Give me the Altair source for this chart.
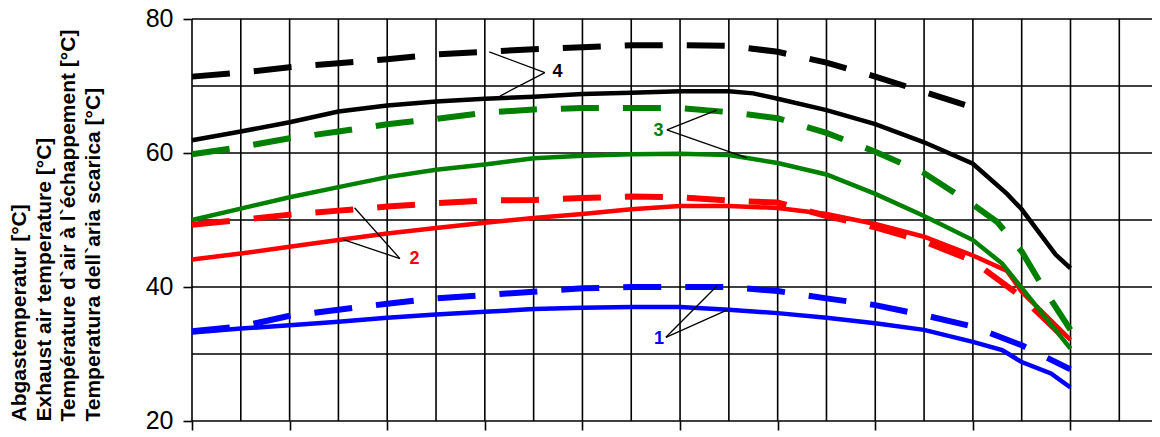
import altair as alt
import pandas as pd

# ---------------- data (x in grid units, y in °C) ----------------
X_GRID = list(range(0, 20))
Y_GRID = [20, 30, 40, 50, 60, 70, 80]
X_TICKS = [0, 2, 4, 6, 8, 10, 12, 14, 16, 18]
Y_TICKS = [20, 40, 60, 80]

Y_TITLE = [
    "Abgastemperatur [°C]",
    "Exhaust air temperature [°C]",
    "Température d`air à l`échappement [°C]",
    "Temperatura dell`aria scarica [°C]",
]

S1_SOLID_X = [0, 1, 2, 3, 4, 5, 6, 7, 8, 9, 10, 11, 12, 13, 14, 15, 16, 16.6, 17, 17.6, 18]
S1_SOLID_Y = [33.2, 33.8, 34.3, 34.8, 35.4, 35.9, 36.3, 36.7, 36.9, 37.0, 37.0, 36.6, 36.1, 35.4, 34.6, 33.6, 31.8, 30.6, 28.8, 27.1, 25.0]
S1_DASH_X = [0, 1, 2, 3, 4, 5, 6, 7, 8, 9, 10, 11, 12, 13, 14, 15, 16, 17, 17.5, 18]
S1_DASH_Y = [33.4, 34.1, 35.7, 36.6, 37.5, 38.3, 38.8, 39.3, 39.8, 40.0, 40.0, 40.0, 39.4, 38.3, 37.3, 35.8, 34.1, 31.3, 29.5, 27.7]

S2_SOLID_X = [0, 1, 2, 3, 4, 5, 6, 7, 8, 9, 10, 11, 12, 13, 14, 15, 16, 16.7, 17, 18]
S2_SOLID_Y = [44.1, 45.0, 46.0, 47.0, 48.0, 48.8, 49.6, 50.3, 50.9, 51.6, 52.1, 52.1, 51.8, 50.9, 49.4, 47.5, 44.7, 42.4, 39.3, 32.1]
S2_DASH_X = [0, 1, 2, 3, 4, 5, 6, 7, 8, 9, 10, 11, 12, 13, 14, 15, 16, 17, 18]
S2_DASH_Y = [49.3, 50.0, 50.8, 51.4, 52.0, 52.5, 52.9, 53.0, 53.3, 53.5, 53.4, 52.9, 52.6, 50.6, 48.9, 46.8, 43.9, 38.5, 31.5]

S3_SOLID_X = [0, 1, 2, 3, 4, 5, 6, 7, 8, 9, 10, 11, 12, 13, 14, 15, 16, 16.6, 18]
S3_SOLID_Y = [50.0, 51.7, 53.4, 54.9, 56.4, 57.5, 58.3, 59.2, 59.6, 59.8, 59.9, 59.7, 58.5, 56.8, 53.9, 50.6, 47.0, 43.5, 30.8]
S3_DASH_X = [0, 1, 2, 3, 4, 5, 6, 7, 8, 9, 10, 11, 12, 13, 14, 15, 16, 16.5, 17, 17.5, 18]
S3_DASH_Y = [59.8, 60.9, 62.2, 63.2, 64.3, 65.1, 66.0, 66.5, 66.7, 66.7, 66.7, 66.1, 65.2, 63.0, 60.2, 57.0, 52.3, 49.7, 45.3, 39.2, 33.6]

S4_SOLID_X = [0, 1, 2, 3, 4, 5, 6, 7, 8, 9, 10, 11, 11.5, 12, 13, 14, 15, 16, 16.7, 17, 17.7, 18]
S4_SOLID_Y = [61.9, 63.2, 64.6, 66.2, 67.1, 67.7, 68.1, 68.4, 68.8, 69.0, 69.2, 69.2, 68.9, 68.1, 66.4, 64.3, 61.6, 58.4, 53.9, 51.6, 44.8, 42.8]
S4_DASH_X = [0, 1, 2, 3, 4, 5, 6, 7, 8, 9, 10, 11, 12, 13, 14, 15, 16]
S4_DASH_Y = [71.4, 72.0, 72.8, 73.4, 74.0, 74.7, 75.1, 75.5, 75.8, 76.1, 76.1, 76.0, 75.1, 73.5, 71.4, 69.1, 66.8]

SERIES_COLORS = ["#0000FF", "#FF0000", "#008000", "#000000"]
SERIES = [
    (S1_DASH_X, S1_DASH_Y, S1_SOLID_X, S1_SOLID_Y),
    (S2_DASH_X, S2_DASH_Y, S2_SOLID_X, S2_SOLID_Y),
    (S3_DASH_X, S3_DASH_Y, S3_SOLID_X, S3_SOLID_Y),
    (S4_DASH_X, S4_DASH_Y, S4_SOLID_X, S4_SOLID_Y),
]

# curve labels and callout lines
LABEL_TEXT = ["1", "2", "3", "4"]
LABEL_X = [9.57, 4.56, 9.56, 7.49]
LABEL_Y = [32.2, 44.24, 63.33, 72.16]

CALLOUT_X = [9.71, 9.71, 4.26, 4.26, 9.73, 9.73, 7.23, 7.23]
CALLOUT_Y = [32.49, 32.49, 44.24, 44.24, 63.44, 63.44, 72.0, 72.0]
CALLOUT_X2 = [10.75, 10.96, 3.33, 3.10, 10.75, 11.37, 6.09, 6.31]
CALLOUT_Y2 = [40.1, 36.55, 51.83, 47.07, 66.4, 59.27, 75.1, 68.5]

# ---------------- chart ----------------
FONT = "Liberation Sans"
XSCALE = alt.Scale(domain=[0, 19.67], nice=False, zero=False)
YSCALE = alt.Scale(domain=[20, 80], nice=False, zero=False)

XAXIS = alt.Axis(values=X_TICKS, labels=False, ticks=True, tickSize=9, tickWidth=1.6,
                 tickColor="black", domain=False, grid=False, title=None)
YAXIS = alt.Axis(values=Y_TICKS, ticks=True, tickSize=9, tickWidth=1.6, tickColor="black",
                 domain=False, grid=False, labelFont=FONT, labelFontSize=25,
                 labelColor="black", labelPadding=10, labelOffset=-1,
                 title=Y_TITLE, titleFont=FONT, titleFontSize=21, titleFontWeight="bold",
                 titleColor="black", titleAngle=270, titleAlign="left", titleBaseline="top",
                 titleLineHeight=24.5, titleX=-183.5, titleY=402)

grid_v = alt.Chart(pd.DataFrame({"gx": X_GRID})).mark_rule(color="black", strokeWidth=1.6).encode(
    x=alt.X("gx:Q", scale=XSCALE, axis=XAXIS)
)
grid_h = alt.Chart(pd.DataFrame({"gy": Y_GRID})).mark_rule(color="black", strokeWidth=1.6).encode(
    y=alt.Y("gy:Q", scale=YSCALE, axis=YAXIS)
)

layers = [grid_v, grid_h]
for color, (dx, dy, sx, sy) in zip(SERIES_COLORS, SERIES):
    dashed = alt.Chart(pd.DataFrame({"x": dx, "y": dy})).mark_line(
        color=color, strokeWidth=6, strokeDash=[38, 24], strokeCap="butt"
    ).encode(
        x=alt.X("x:Q", scale=XSCALE, axis=XAXIS),
        y=alt.Y("y:Q", scale=YSCALE, axis=YAXIS),
        order="x:Q",
    )
    solid = alt.Chart(pd.DataFrame({"x": sx, "y": sy})).mark_line(
        color=color, strokeWidth=4.5
    ).encode(
        x=alt.X("x:Q", scale=XSCALE, axis=XAXIS),
        y=alt.Y("y:Q", scale=YSCALE, axis=YAXIS),
        order="x:Q",
    )
    layers += [dashed, solid]

callouts = alt.Chart(pd.DataFrame({"x": CALLOUT_X, "y": CALLOUT_Y, "x2": CALLOUT_X2, "y2": CALLOUT_Y2})).mark_rule(
    color="black", strokeWidth=1.3
).encode(
    x=alt.X("x:Q", scale=XSCALE, axis=XAXIS),
    y=alt.Y("y:Q", scale=YSCALE, axis=YAXIS),
    x2="x2:Q",
    y2="y2:Q",
)
labels = alt.Chart(pd.DataFrame({"x": LABEL_X, "y": LABEL_Y, "t": LABEL_TEXT, "c": SERIES_COLORS})).mark_text(
    font=FONT, fontSize=18, fontWeight="bold", align="center", baseline="middle"
).encode(
    x=alt.X("x:Q", scale=XSCALE, axis=XAXIS),
    y=alt.Y("y:Q", scale=YSCALE, axis=YAXIS),
    text="t:N",
    color=alt.Color("c:N", scale=None),
)
layers += [callouts, labels]

chart = alt.layer(*layers).properties(
    width=960,
    height=402,
    padding={"left": 184, "top": 11, "right": 0, "bottom": 16},
    autosize=alt.AutoSizeParams(type="none"),
    background="white",
).configure_view(stroke=None)

chart.save("out.html", embed_options={"renderer": "svg", "actions": False})
